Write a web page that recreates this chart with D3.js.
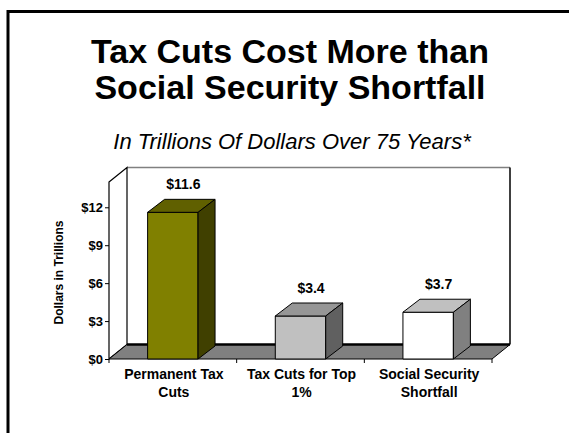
<!DOCTYPE html>
<html>
<head>
<meta charset="utf-8">
<script src="https://cdn.jsdelivr.net/npm/d3@7"></script>
<style>
  html, body { margin: 0; padding: 0; background: #fff; }
  svg { display: block; font-family: "Liberation Sans", Arial, sans-serif; }
</style>
</head>
<body>
<svg id="chart" width="569" height="433"></svg>
<script>
// Chart data
const categories = [["Permanent Tax", "Cuts"], ["Tax Cuts for Top", "1%"], ["Social Security", "Shortfall"]];
const values = [11.6, 3.4, 3.7];
const valueLabels = ["$11.6", "$3.4", "$3.7"];
const yTicks = [0, 3, 6, 9, 12];
const faceColors = [
  { front: "#808000", top: "#606000", side: "#404000" },
  { front: "#c0c0c0", top: "#969696", side: "#606060" },
  { front: "#ffffff", top: "#c0c0c0", side: "#808080" }
];

const svg = d3.select("#chart");

// Slide frame (top and left edges only)
svg.append("line").attr("x1", 7).attr("x2", 569).attr("y1", 11.5).attr("y2", 11.5)
  .attr("stroke", "#000").attr("stroke-width", 3);
svg.append("line").attr("x1", 8).attr("x2", 8).attr("y1", 10).attr("y2", 433)
  .attr("stroke", "#000").attr("stroke-width", 3);

// Titles
const title = svg.append("text").attr("text-anchor", "middle")
  .attr("font-size", 34).attr("font-weight", "bold").attr("fill", "#000");
title.append("tspan").attr("x", 290).attr("y", 63).text("Tax Cuts Cost More than");
title.append("tspan").attr("x", 290).attr("y", 99).text("Social Security Shortfall");

svg.append("text").attr("x", 292).attr("y", 149).attr("text-anchor", "middle")
  .attr("font-size", 22).attr("font-style", "italic").text("In Trillions Of Dollars Over 75 Years*");

// Plot geometry
const plotLeft = 109, plotRight = 492, plotBottom = 359;
const depth = { dx: 18, dy: -14.5 };
const barDepth = { dx: 17, dy: -13 };

const x = d3.scaleBand().domain(d3.range(categories.length)).range([plotLeft, plotRight]).padding(0);
const y = d3.scaleLinear().domain([0, 14]).range([plotBottom, 182]);
const barW = x.bandwidth() * 0.395;
const plotTop = y(14);

const poly = pts => "M" + pts.map(p => p.join(",")).join("L") + "Z";

// Back wall
svg.append("path")
  .attr("d", poly([[plotLeft + depth.dx, plotTop + depth.dy], [plotRight + depth.dx, plotTop + depth.dy],
                   [plotRight + depth.dx, plotBottom + depth.dy], [plotLeft + depth.dx, plotBottom + depth.dy]]))
  .attr("fill", "#fff").attr("stroke", "none");
svg.append("line").attr("x1", plotLeft + depth.dx).attr("x2", plotRight + depth.dx)
  .attr("y1", plotTop + depth.dy).attr("y2", plotTop + depth.dy).attr("stroke", "#808080").attr("stroke-width", 1.5);
svg.append("line").attr("x1", plotRight + depth.dx).attr("x2", plotRight + depth.dx)
  .attr("y1", plotTop + depth.dy).attr("y2", plotBottom + depth.dy).attr("stroke", "#000").attr("stroke-width", 1.5);

// Side wall
svg.append("path")
  .attr("d", poly([[plotLeft, plotTop], [plotLeft + depth.dx, plotTop + depth.dy],
                   [plotLeft + depth.dx, plotBottom + depth.dy], [plotLeft, plotBottom]]))
  .attr("fill", "#fff").attr("stroke", "#000").attr("stroke-width", 1.2);

// Floor
svg.append("path")
  .attr("d", poly([[plotLeft, plotBottom], [plotRight, plotBottom],
                   [plotRight + depth.dx, plotBottom + depth.dy], [plotLeft + depth.dx, plotBottom + depth.dy]]))
  .attr("fill", "#808080").attr("stroke", "#000").attr("stroke-width", 1);
svg.append("line").attr("x1", plotLeft + depth.dx).attr("x2", plotRight + depth.dx)
  .attr("y1", plotBottom + depth.dy).attr("y2", plotBottom + depth.dy).attr("stroke", "#000").attr("stroke-width", 2.5);

// Bars
const bars = svg.append("g").selectAll("g").data(values).join("g");
bars.each(function (v, i) {
  const g = d3.select(this);
  const cx = x(i) + x.bandwidth() / 2;
  const x0 = cx - barW / 2, x1 = cx + barW / 2, yt = y(v);
  const c = faceColors[i];
  g.append("path").attr("d", poly([[x0, plotBottom], [x1, plotBottom], [x1, yt], [x0, yt]]))
    .attr("fill", c.front).attr("stroke", "#000").attr("stroke-width", 1);
  g.append("path").attr("d", poly([[x0, yt], [x1, yt], [x1 + barDepth.dx, yt + barDepth.dy], [x0 + barDepth.dx, yt + barDepth.dy]]))
    .attr("fill", c.top).attr("stroke", "#000").attr("stroke-width", 1);
  g.append("path").attr("d", poly([[x1, plotBottom], [x1, yt], [x1 + barDepth.dx, yt + barDepth.dy], [x1 + barDepth.dx, plotBottom + barDepth.dy]]))
    .attr("fill", c.side).attr("stroke", "#000").attr("stroke-width", 1);
  g.append("text").attr("x", cx + barDepth.dx / 2 + 2).attr("y", yt + barDepth.dy - 10)
    .attr("text-anchor", "middle").attr("font-size", 14).attr("font-weight", "bold")
    .text(valueLabels[i]);
});

// Y axis
const yAxis = svg.append("g").attr("transform", `translate(${plotLeft},0)`)
  .call(d3.axisLeft(y).tickValues(yTicks).tickSize(4).tickPadding(2).tickFormat(d => "$" + d));
yAxis.select(".domain").remove();
yAxis.selectAll("line").attr("stroke", "#000");
yAxis.selectAll("text").attr("font-size", 13).attr("font-weight", "bold")
  .attr("font-family", "'Liberation Sans', Arial, sans-serif").attr("fill", "#000");

svg.append("text").attr("transform", "translate(63,272.5) rotate(-90)")
  .attr("text-anchor", "middle").attr("font-size", 12).attr("font-weight", "bold")
  .text("Dollars in Trillions");

// X axis ticks at category boundaries
const bounds = d3.range(categories.length + 1).map(i => plotLeft + i * x.step());
svg.append("g").selectAll("line").data(bounds).join("line")
  .attr("x1", d => d).attr("x2", d => d).attr("y1", plotBottom).attr("y2", plotBottom + 4)
  .attr("stroke", "#000");

// Category labels
const catText = svg.append("g").selectAll("text").data(categories).join("text")
  .attr("text-anchor", "middle").attr("font-size", 14).attr("font-weight", "bold");
catText.each(function (lines, i) {
  const cx = x(i) + x.bandwidth() / 2 + 1;
  d3.select(this).selectAll("tspan").data(lines).join("tspan")
    .attr("x", cx).attr("y", (d, j) => 379 + j * 17.5).text(d => d);
});
</script>
</body>
</html>
